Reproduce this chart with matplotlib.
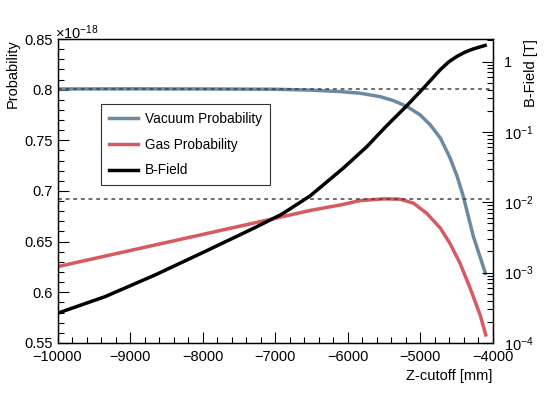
import numpy as np
import matplotlib
matplotlib.use('Agg')
import matplotlib.pyplot as plt
from matplotlib.ticker import MultipleLocator, FixedLocator, FixedFormatter, LogLocator, NullFormatter

plt.rcParams['font.family'] = ['Liberation Sans', 'DejaVu Sans']
plt.rcParams['mathtext.fontset'] = 'custom'
plt.rcParams['mathtext.rm'] = 'Liberation Sans'
plt.rcParams['mathtext.it'] = 'Liberation Sans:italic'
plt.rcParams['font.size'] = 9

# probabilities in units of 1e-18
z_vac = [-10000, -9000, -8000, -7000, -6500, -6100, -5830, -5550, -5370, -5180,
         -5000, -4860, -4720, -4590, -4490, -4410, -4265, -4100]
p_vac = [0.8007, 0.8008, 0.8007, 0.8004, 0.7995, 0.7981, 0.7965, 0.7931, 0.7892, 0.7833,
         0.7751, 0.7652, 0.7521, 0.7330, 0.7145, 0.6960, 0.6549, 0.6188]

z_gas = [-10000, -9000, -8000, -7000, -6500, -6100, -5830, -5500, -5280, -5090,
         -4910, -4720, -4590, -4450, -4310, -4170, -4095]
p_gas = [0.6253, 0.6412, 0.6571, 0.6730, 0.6810, 0.6862, 0.6905, 0.6922, 0.6919, 0.6879,
         0.6780, 0.6632, 0.6484, 0.6287, 0.6040, 0.5770, 0.5579]

# B-field in tesla (read on the log axis)
z_b = [-10000, -9345, -8655, -7966, -7276, -6908, -6517, -6058, -5735, -5459,
       -5193, -4954, -4724, -4610, -4494, -4380, -4265, -4103]
logb = [-3.578, -3.342, -3.034, -2.70, -2.36, -2.17, -1.91, -1.514, -1.21, -0.91,
        -0.638, -0.378, -0.118, -0.009, 0.072, 0.134, 0.18, 0.229]
b_field = [10 ** v for v in logb]

max_vac = 0.8007
max_gas = 0.6918

blue = '#6a8aa3'
red = '#d65a60'

fig = plt.figure(figsize=(5.48, 3.96), dpi=100)
ax = fig.add_axes([0.105, 0.134, 0.794, 0.7675])

l1, = ax.plot(z_vac, p_vac, color=blue, lw=2.5, label='Vacuum Probability')
l2, = ax.plot(z_gas, p_gas, color=red, lw=2.5, label='Gas Probability')
ax.axhline(max_vac, color='#444444', lw=1.1, ls=(0, (2.5, 2.5)))
ax.axhline(max_gas, color='#444444', lw=1.1, ls=(0, (2.5, 2.5)))

ax.set_xlim(-10000, -4000)
ax.set_ylim(0.55, 0.85)
ax.xaxis.set_major_locator(MultipleLocator(1000))
ax.xaxis.set_minor_locator(MultipleLocator(200))
ax.yaxis.set_major_locator(MultipleLocator(0.05))
ax.yaxis.set_minor_locator(MultipleLocator(0.01))
ax.yaxis.set_major_formatter(matplotlib.ticker.FuncFormatter(lambda v, p: '%g' % round(v, 2)))
ax.tick_params(which='both', direction='in', top=False, right=False, labelsize=10.5)
ax.tick_params(which='major', length=8, width=0.8)
ax.tick_params(which='minor', length=4, width=0.8)
ax.tick_params(axis='x', pad=5)

ax.set_xlabel('Z-cutoff [mm]', loc='right', fontsize=10.5)
ax.set_ylabel('Probability', loc='top', fontsize=10.5)
ax.yaxis.set_label_coords(-0.088, 1.0)
fig.text(0.1, 0.893, r'$\times$10$^{-18}$', fontsize=10.5, va='bottom', ha='left')

ax2 = ax.twinx()
l3, = ax2.plot(z_b, b_field, color='black', lw=2.5, label='B-Field')
ax2.set_yscale('log')
ax2.set_ylim(1e-4, 2.09)
ax2.yaxis.set_major_locator(FixedLocator([1e-4, 1e-3, 1e-2, 1e-1, 1]))
ax2.yaxis.set_major_formatter(FixedFormatter([r'$10^{-4}$', r'$10^{-3}$', r'$10^{-2}$', r'$10^{-1}$', '1']))
ax2.yaxis.set_minor_locator(LogLocator(base=10, subs=np.arange(2, 10)))
ax2.yaxis.set_minor_formatter(NullFormatter())
ax2.tick_params(which='both', direction='in', labelsize=10.5, pad=8)
ax2.tick_params(which='major', length=8, width=0.8)
ax2.tick_params(which='minor', length=4, width=0.8)
ax2.set_ylabel('B-Field [T]', loc='top', fontsize=10.5)
ax2.yaxis.set_label_coords(1.072, 1.0)

for a in (ax, ax2):
    for s in a.spines.values():
        s.set_linewidth(0.9)

leg = fig.legend(handles=[l1, l2, l3], loc='upper left',
                 bbox_to_anchor=(101 / 548, 1 - 104 / 396), borderaxespad=0,
                 fancybox=False, framealpha=1, edgecolor='#333333',
                 fontsize=9.8, handlelength=2.1, handletextpad=0.5,
                 labelspacing=0.85, borderpad=0.6)
leg.get_frame().set_linewidth(0.8)

fig.savefig('out.png', dpi=100)
